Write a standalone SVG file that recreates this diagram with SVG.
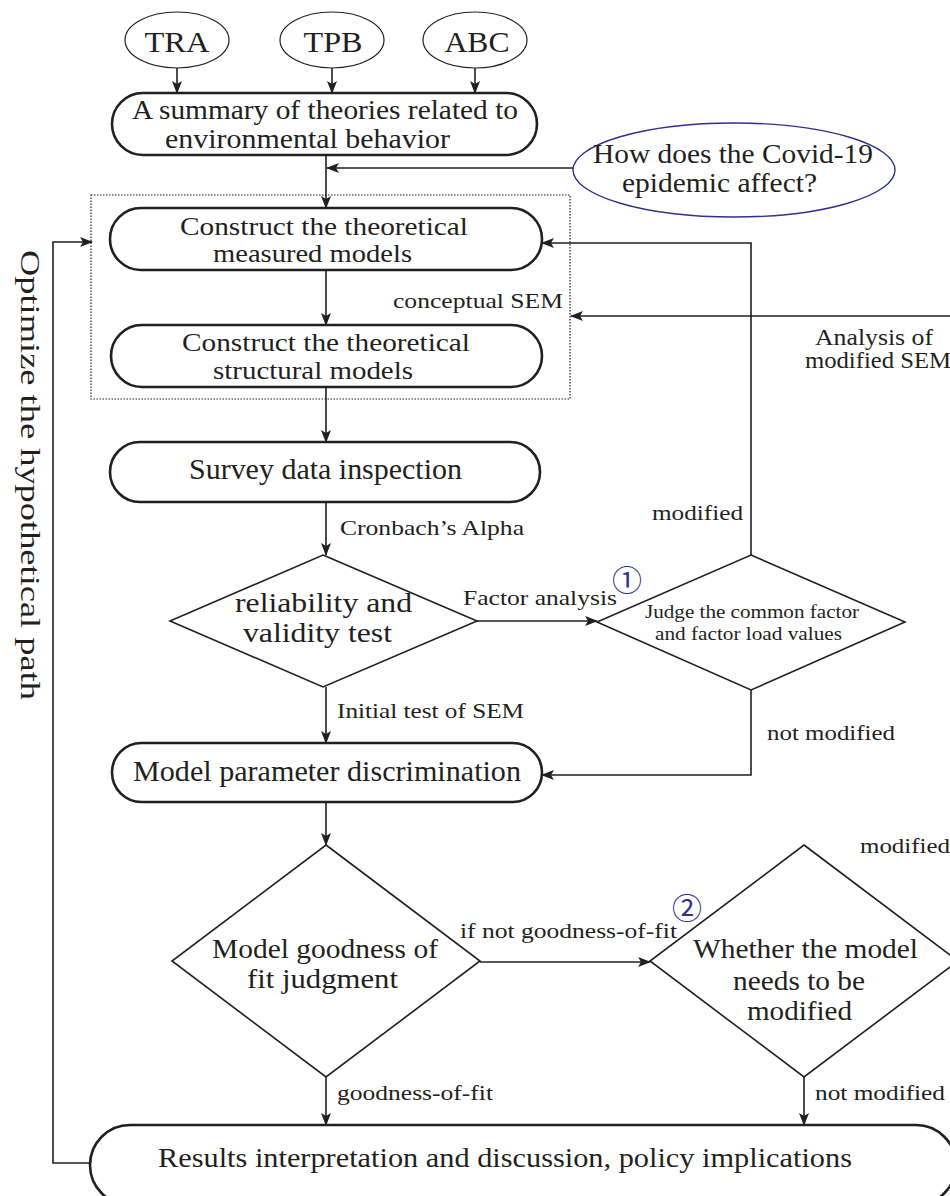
<svg xmlns="http://www.w3.org/2000/svg" width="950" height="1196" viewBox="0 0 950 1196">
<defs>
<marker id="ah" markerUnits="userSpaceOnUse" markerWidth="13" markerHeight="10" refX="12" refY="5" orient="auto">
<path d="M0,0 L13,5 L0,10 L3,5 z" fill="#231f20"/>
</marker>
<style>
text{font-family:"Liberation Serif","Times New Roman",serif;fill:#231f20}
.box{fill:#fff;stroke:#231f20;stroke-width:2.6}
.dia{fill:#fff;stroke:#231f20;stroke-width:1.6}
.ell{fill:#fff;stroke:#231f20;stroke-width:1.2}
.con{fill:none;stroke:#231f20;stroke-width:1.6}
.arr{fill:none;stroke:#231f20;stroke-width:1.6;marker-end:url(#ah)}
.num{font-family:"Noto Sans CJK SC","DejaVu Sans",sans-serif;fill:#2e3192}
</style>
</defs>
<rect width="950" height="1196" fill="#fff"/>

<g id="connectors">
<line class="arr" x1="177" y1="68" x2="177" y2="93"/>
<line class="arr" x1="332" y1="68" x2="332" y2="93"/>
<line class="arr" x1="475" y1="68" x2="475" y2="93"/>
<line class="arr" x1="326" y1="155" x2="326" y2="208"/>
<line class="arr" x1="573" y1="168" x2="327" y2="168"/>
<line class="arr" x1="326" y1="270" x2="326" y2="325"/>
<line class="arr" x1="326" y1="387" x2="326" y2="442"/>
<line class="arr" x1="326" y1="502" x2="326" y2="555"/>
<line class="arr" x1="326" y1="687" x2="326" y2="743"/>
<line class="arr" x1="326" y1="802" x2="326" y2="845"/>
<line class="arr" x1="477" y1="621" x2="597" y2="621"/>
<polyline class="arr" points="751,555 751,243 542,243"/>
<line class="arr" x1="955" y1="316" x2="571" y2="316"/>
<polyline class="arr" points="751,690 751,775 542,775"/>
<line class="arr" x1="480" y1="962" x2="650" y2="962"/>
<line class="arr" x1="326" y1="1077" x2="326" y2="1125"/>
<line class="arr" x1="804" y1="1077" x2="804" y2="1125"/>
<polyline class="arr" points="90,1163 53,1163 53,242 92,242"/>
</g>

<g id="group-box">
<rect x="91" y="195" width="479" height="204" fill="none" stroke="#231f20" stroke-width="1.2" stroke-dasharray="1.5,1.5"/>
</g>

<g id="n-tra"><ellipse class="ell" cx="177" cy="40" rx="52" ry="28"/><text x="177" y="52" font-size="30" text-anchor="middle" textLength="65" lengthAdjust="spacingAndGlyphs">TRA</text></g>
<g id="n-tpb"><ellipse class="ell" cx="332" cy="40" rx="52" ry="28"/><text x="333" y="52" font-size="30" text-anchor="middle" textLength="59" lengthAdjust="spacingAndGlyphs">TPB</text></g>
<g id="n-abc"><ellipse class="ell" cx="475" cy="40" rx="52" ry="28"/><text x="477" y="52" font-size="30" text-anchor="middle" textLength="65" lengthAdjust="spacingAndGlyphs">ABC</text></g>

<g id="n-summary"><rect class="box" x="112" y="93" width="425" height="62" rx="31"/>
<text x="132" y="119" font-size="28" textLength="386" lengthAdjust="spacingAndGlyphs">A summary of theories related to</text>
<text x="165" y="148" font-size="28" textLength="285" lengthAdjust="spacingAndGlyphs">environmental behavior</text></g>

<g id="n-covid"><ellipse cx="734" cy="170" rx="161" ry="47" fill="#fff" stroke="#2e3192" stroke-width="1.4"/>
<text x="593" y="163" font-size="28" textLength="280" lengthAdjust="spacingAndGlyphs">How does the Covid-19</text>
<text x="622" y="192" font-size="28" textLength="195" lengthAdjust="spacingAndGlyphs">epidemic affect?</text></g>

<g id="n-measured"><rect class="box" x="110" y="208" width="432" height="62" rx="31"/>
<text x="180" y="235" font-size="25" textLength="288" lengthAdjust="spacingAndGlyphs">Construct  the  theoretical</text>
<text x="213" y="262" font-size="25" textLength="199" lengthAdjust="spacingAndGlyphs">measured  models</text></g>

<g id="n-structural"><rect class="box" x="111" y="325" width="431" height="62" rx="31"/>
<text x="182" y="351" font-size="25" textLength="288" lengthAdjust="spacingAndGlyphs">Construct  the  theoretical</text>
<text x="213" y="379" font-size="25" textLength="200" lengthAdjust="spacingAndGlyphs">structural  models</text></g>

<g id="n-survey"><rect class="box" x="110" y="442" width="430" height="60" rx="30"/>
<text x="189" y="479" font-size="29" textLength="273" lengthAdjust="spacingAndGlyphs">Survey data inspection</text></g>

<g id="n-reliability"><polygon class="dia" points="323,555 477,621 323,687 170,621"/>
<text x="235" y="612" font-size="28" textLength="177" lengthAdjust="spacingAndGlyphs">reliability  and</text>
<text x="243" y="642" font-size="28" textLength="149" lengthAdjust="spacingAndGlyphs">validity  test</text></g>

<g id="n-judge"><polygon class="dia" points="751,555 905,622 751,690 597,622"/>
<text x="645" y="618" font-size="18" textLength="214" lengthAdjust="spacingAndGlyphs">Judge the common factor</text>
<text x="655" y="640" font-size="18" textLength="187" lengthAdjust="spacingAndGlyphs">and factor load values</text>
<text class="num" x="627" y="591" font-size="30" text-anchor="middle">①</text></g>

<g id="n-param"><rect class="box" x="112" y="743" width="430" height="59" rx="29.5"/>
<text x="133" y="781" font-size="29" textLength="388" lengthAdjust="spacingAndGlyphs">Model parameter discrimination</text></g>

<g id="n-goodness"><polygon class="dia" points="326,845 480,961 326,1077 172,961"/>
<text x="212" y="958" font-size="28" textLength="226" lengthAdjust="spacingAndGlyphs">Model goodness of</text>
<text x="247" y="988" font-size="28" textLength="151" lengthAdjust="spacingAndGlyphs">fit  judgment</text></g>

<g id="n-whether"><polygon class="dia" points="804,845 958,961 804,1077 650,961"/>
<text x="693" y="958" font-size="28" textLength="225" lengthAdjust="spacingAndGlyphs">Whether the model</text>
<text x="733" y="990" font-size="28" textLength="132" lengthAdjust="spacingAndGlyphs">needs to be</text>
<text x="747" y="1020" font-size="28" textLength="105" lengthAdjust="spacingAndGlyphs">modified</text>
<text class="num" x="687" y="919" font-size="30" text-anchor="middle">②</text></g>

<g id="n-results"><rect class="box" x="90" y="1125" width="866" height="80" rx="40"/>
<text x="158" y="1167" font-size="28" textLength="694" lengthAdjust="spacingAndGlyphs">Results interpretation and discussion, policy implications</text></g>

<g id="labels">
<text x="393" y="308" font-size="22" textLength="170" lengthAdjust="spacingAndGlyphs">conceptual SEM</text>
<text x="815" y="345" font-size="23" textLength="118" lengthAdjust="spacingAndGlyphs">Analysis of</text>
<text x="805" y="368" font-size="23" textLength="146" lengthAdjust="spacingAndGlyphs">modified SEM</text>
<text x="652" y="520" font-size="22" textLength="91" lengthAdjust="spacingAndGlyphs">modified</text>
<text x="340" y="535" font-size="22" textLength="184" lengthAdjust="spacingAndGlyphs">Cronbach’s Alpha</text>
<text x="463" y="605" font-size="22" textLength="154" lengthAdjust="spacingAndGlyphs">Factor analysis</text>
<text x="337" y="718" font-size="22" textLength="187" lengthAdjust="spacingAndGlyphs">Initial test of SEM</text>
<text x="767" y="740" font-size="22" textLength="128" lengthAdjust="spacingAndGlyphs">not modified</text>
<text x="860" y="853" font-size="22" textLength="90" lengthAdjust="spacingAndGlyphs">modified</text>
<text x="460" y="938" font-size="22" textLength="217" lengthAdjust="spacingAndGlyphs">if not goodness-of-fit</text>
<text x="337" y="1100" font-size="22" textLength="156" lengthAdjust="spacingAndGlyphs">goodness-of-fit</text>
<text x="815" y="1100" font-size="22" textLength="130" lengthAdjust="spacingAndGlyphs">not modified</text>
<text transform="translate(21,250) rotate(90)" x="0" y="0" font-size="28" textLength="450" lengthAdjust="spacingAndGlyphs">Optimize the hypothetical path</text>
</g>
</svg>
